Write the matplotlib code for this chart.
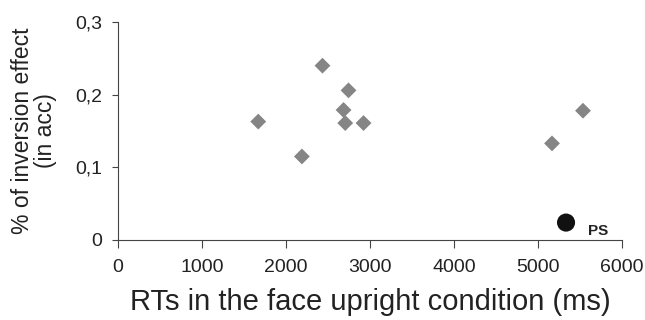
import matplotlib
matplotlib.use("Agg")
import matplotlib.pyplot as plt

# RTs (ms) vs inversion effect (acc), controls
rt_controls = [1670, 2190, 2435, 2745, 2686, 2706, 2924, 5169, 5538]
eff_controls = [0.163, 0.115, 0.240, 0.206, 0.179, 0.161, 0.161, 0.133, 0.178]
# patient PS
rt_ps = [5336]
eff_ps = [0.024]

xticks = [0, 1000, 2000, 3000, 4000, 5000, 6000]
yticks = [0, 0.1, 0.2, 0.3]
ytick_labels = ["0", "0,1", "0,2", "0,3"]

plt.rcParams["font.family"] = ["Liberation Sans", "DejaVu Sans"]

fig = plt.figure(figsize=(6.45, 3.2), dpi=100)
ax = fig.add_axes([0.183, 0.25, 0.781, 0.681])

ax.scatter(rt_controls, eff_controls, marker="D", s=65, color="#858585",
           edgecolor="none", zorder=3)
ax.scatter(rt_ps, eff_ps, marker="o", s=170, color="#111111",
           edgecolor="none", zorder=3)
ax.text(rt_ps[0] + 260, eff_ps[0] - 0.002, "PS", fontsize=11, fontweight="bold",
        va="top", ha="left", color="#222222")

ax.set_xlim(0, 6000)
ax.set_ylim(0, 0.3)
ax.set_xticks(xticks)
ax.set_yticks(yticks)
ax.set_yticklabels(ytick_labels)
ax.tick_params(labelsize=14, colors="#444444", labelcolor="#222222", width=0.8)
ax.tick_params(axis="x", length=5.5, pad=8)
ax.tick_params(axis="y", length=4.5, pad=7)
for side in ("top", "right"):
    ax.spines[side].set_visible(False)
for side in ("left", "bottom"):
    ax.spines[side].set_color("#444444")
    ax.spines[side].set_linewidth(0.8)

ax.set_xlabel("RTs in the face upright condition (ms)", fontsize=21,
              color="#222222", labelpad=9)
ax.set_ylabel("% of inversion effect\n(in acc)", fontsize=16.5,
              color="#222222", labelpad=13, linespacing=1.0)

fig.savefig("out.png", dpi=100)
